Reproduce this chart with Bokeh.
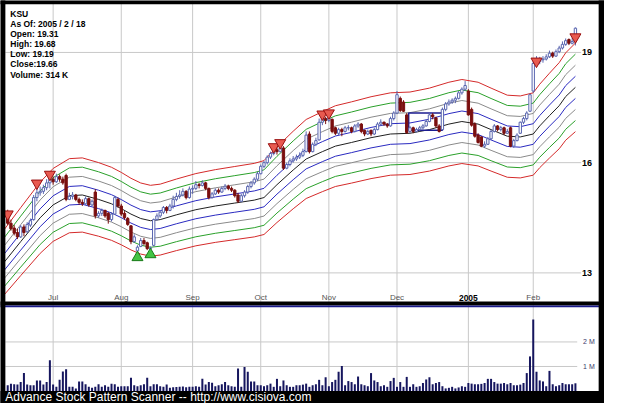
from bokeh.plotting import figure
from bokeh.models import Range1d
from bokeh.core.properties import value
from bokeh.embed import file_html
from bokeh.resources import INLINE

# ---------------- data ----------------
info_lines = ["KSU", "As Of: 2005 / 2 / 18", "Open: 19.31", "High: 19.68",
              "Low: 19.19", "Close:19.66", "Volume: 314 K"]

# trading-day index of the first session of each month (index 0 = 2004-06-10)
month_idx = [14, 35, 57, 78, 99, 120, 142, 162]
month_labels = ["Jul", "Aug", "Sep", "Oct", "Nov", "Dec", "2005", "Feb"]

price_ticks = [13, 16, 19]
price_tick_labels = ["13", "16", "19"]
vol_ticks = [1000, 2000]
vol_tick_labels = ["1 M", "2 M"]

opens = [
    14.55, 14.35, 14.22, 14.10, 13.98, 14.25, 14.12, 14.30, 14.45, 15.05,
    15.18, 15.22, 15.32, 15.45, 15.55, 15.48, 15.62, 15.55, 15.65, 15.00,
    15.08, 15.12, 15.00, 14.92, 14.88, 15.02, 14.85, 15.20, 14.55, 14.62,
    14.70, 14.62, 14.45, 14.60, 15.00, 14.82, 14.62, 14.48, 14.28, 13.85,
    13.60, 13.72, 13.88, 13.82, 13.66, 13.75, 14.45, 14.55, 14.65, 14.78,
    14.70, 14.82, 15.00, 15.08, 15.12, 15.22, 15.05, 15.28, 15.30, 15.40,
    15.38, 15.45, 15.30, 15.05, 15.15, 15.25, 15.20, 15.30, 15.36, 15.30,
    15.25, 15.12, 14.95, 15.10, 15.20, 15.35, 15.45, 15.55, 15.70, 15.90,
    16.00, 16.15, 16.25, 16.35, 16.30, 16.40, 15.85, 15.95, 16.05, 16.10,
    16.15, 16.20, 16.30, 16.78, 16.30, 16.50, 16.62, 17.10, 17.20, 17.15,
    17.18, 16.95, 16.80, 16.90, 16.85, 16.95, 16.95, 16.85, 17.00, 17.05,
    16.88, 16.78, 16.88, 16.78, 16.90, 17.05, 17.10, 17.05, 17.00, 17.20,
    17.35, 17.75, 17.65, 17.30, 16.85, 16.95, 16.85, 16.90, 16.95, 17.00,
    17.12, 17.30, 17.22, 17.00, 16.90, 17.45, 17.60, 17.65, 17.70, 17.75,
    17.90, 18.00, 17.95, 17.45, 17.05, 16.75, 16.70, 16.45, 16.50, 16.65,
    16.85, 17.00, 16.90, 16.95, 16.80, 16.95, 16.45, 16.60, 16.80, 17.10,
    17.20, 17.40, 17.95, 18.70, 18.75, 18.80, 18.82, 18.88, 18.98, 18.90,
    19.02, 19.12, 19.22, 19.35, 19.25, 19.31]
highs = [
    14.72, 14.45, 14.30, 14.20, 14.30, 14.32, 14.38, 14.48, 15.12, 15.30,
    15.35, 15.40, 15.55, 15.68, 15.62, 15.70, 15.68, 15.62, 15.70, 15.18,
    15.20, 15.15, 15.05, 15.00, 15.08, 15.05, 15.00, 15.28, 14.68, 14.75,
    14.72, 14.66, 14.65, 15.10, 15.05, 14.88, 14.68, 14.52, 14.30, 14.05,
    13.75, 13.95, 13.95, 13.85, 13.72, 14.48, 14.62, 14.70, 14.82, 14.82,
    14.88, 15.10, 15.18, 15.25, 15.30, 15.25, 15.35, 15.38, 15.50, 15.45,
    15.52, 15.48, 15.32, 15.20, 15.30, 15.30, 15.35, 15.42, 15.40, 15.35,
    15.28, 15.18, 15.15, 15.25, 15.40, 15.50, 15.60, 15.75, 15.95, 16.05,
    16.20, 16.30, 16.40, 16.45, 16.48, 16.45, 16.00, 16.12, 16.18, 16.22,
    16.28, 16.38, 16.85, 16.85, 16.55, 16.68, 17.20, 17.28, 17.25, 17.30,
    17.20, 16.98, 16.95, 16.95, 17.00, 17.02, 16.98, 17.05, 17.10, 17.08,
    16.90, 16.90, 16.90, 16.95, 17.10, 17.18, 17.12, 17.08, 17.25, 17.40,
    17.95, 17.80, 17.70, 17.35, 17.00, 16.98, 16.95, 17.00, 17.05, 17.18,
    17.35, 17.35, 17.25, 17.05, 17.50, 17.65, 17.72, 17.75, 17.80, 17.95,
    18.05, 18.22, 18.00, 17.50, 17.10, 16.80, 16.72, 16.58, 16.70, 16.90,
    17.05, 17.02, 17.00, 16.98, 16.92, 16.98, 16.65, 16.80, 17.12, 17.25,
    17.40, 17.88, 18.80, 18.90, 18.88, 18.90, 18.95, 19.05, 19.02, 19.08,
    19.18, 19.30, 19.38, 19.38, 19.40, 19.68]
lows = [
    14.30, 14.15, 14.02, 13.92, 13.95, 14.00, 14.08, 14.25, 14.42, 14.95,
    15.10, 15.15, 15.25, 15.30, 15.40, 15.45, 15.48, 15.40, 14.95, 14.98,
    15.00, 14.95, 14.85, 14.82, 14.85, 14.80, 14.82, 14.48, 14.50, 14.55,
    14.50, 14.34, 14.40, 14.58, 14.78, 14.55, 14.45, 14.28, 13.78, 13.82,
    13.52, 13.70, 13.75, 13.62, 13.58, 13.72, 14.42, 14.50, 14.60, 14.62,
    14.68, 14.75, 14.95, 15.02, 15.08, 15.00, 15.02, 15.15, 15.25, 15.30,
    15.35, 15.25, 15.00, 15.02, 15.12, 15.15, 15.18, 15.25, 15.25, 15.20,
    15.05, 14.90, 14.92, 15.05, 15.15, 15.30, 15.40, 15.50, 15.68, 15.85,
    15.95, 16.10, 16.20, 16.22, 16.28, 15.80, 15.82, 15.90, 16.00, 16.05,
    16.10, 16.15, 16.28, 16.25, 16.28, 16.45, 16.60, 17.02, 17.05, 17.10,
    16.80, 16.75, 16.75, 16.72, 16.82, 16.88, 16.80, 16.82, 16.95, 16.80,
    16.72, 16.75, 16.72, 16.75, 16.88, 17.00, 17.00, 16.95, 16.98, 17.15,
    17.32, 17.38, 17.38, 16.78, 16.80, 16.80, 16.82, 16.85, 16.90, 16.98,
    17.10, 17.18, 16.95, 16.82, 16.88, 17.40, 17.55, 17.60, 17.62, 17.72,
    17.85, 17.95, 17.28, 16.98, 16.68, 16.52, 16.42, 16.40, 16.48, 16.62,
    16.82, 16.85, 16.85, 16.75, 16.78, 16.42, 16.40, 16.58, 16.78, 17.05,
    17.15, 17.38, 17.90, 18.62, 18.68, 18.72, 18.78, 18.85, 18.85, 18.88,
    18.98, 19.08, 19.18, 19.20, 19.22, 19.19]
closes = [
    14.35, 14.20, 14.08, 13.98, 14.25, 14.10, 14.32, 14.42, 15.05, 15.18,
    15.22, 15.32, 15.45, 15.55, 15.48, 15.62, 15.55, 15.45, 15.00, 15.08,
    15.12, 15.00, 14.92, 14.88, 15.02, 14.85, 14.95, 14.55, 14.62, 14.70,
    14.55, 14.45, 14.60, 15.05, 14.82, 14.60, 14.50, 14.32, 13.85, 13.98,
    13.70, 13.88, 13.80, 13.66, 13.68, 14.45, 14.55, 14.65, 14.78, 14.70,
    14.82, 15.00, 15.08, 15.12, 15.22, 15.05, 15.28, 15.30, 15.40, 15.38,
    15.45, 15.30, 15.05, 15.15, 15.25, 15.20, 15.30, 15.36, 15.30, 15.25,
    15.10, 14.95, 15.10, 15.20, 15.35, 15.45, 15.55, 15.70, 15.90, 16.00,
    16.15, 16.25, 16.35, 16.30, 16.40, 15.85, 15.95, 16.05, 16.10, 16.15,
    16.20, 16.30, 16.75, 16.30, 16.50, 16.60, 17.10, 17.20, 17.15, 17.22,
    16.85, 16.80, 16.90, 16.85, 16.95, 16.95, 16.85, 17.00, 17.05, 16.85,
    16.78, 16.85, 16.78, 16.90, 17.05, 17.10, 17.05, 17.00, 17.20, 17.35,
    17.85, 17.42, 17.40, 16.82, 16.95, 16.85, 16.90, 16.95, 17.00, 17.12,
    17.30, 17.25, 17.00, 16.85, 17.45, 17.60, 17.65, 17.70, 17.75, 17.90,
    18.00, 18.10, 17.30, 17.02, 16.72, 16.55, 16.45, 16.50, 16.65, 16.85,
    17.00, 16.90, 16.95, 16.80, 16.85, 16.45, 16.60, 16.75, 17.10, 17.20,
    17.35, 17.85, 18.70, 18.75, 18.80, 18.82, 18.88, 18.98, 18.90, 19.02,
    19.12, 19.22, 19.32, 19.25, 19.30, 19.66]
volume_k = [
    235, 300, 275, 260, 365, 730, 260, 235, 235, 430,
    430, 260, 365, 1255, 260, 170, 455, 800, 890, 170,
    170, 105, 390, 390, 275, 170, 130, 170, 275, 170,
    235, 170, 300, 275, 170, 195, 195, 195, 535, 235,
    195, 235, 275, 535, 195, 275, 275, 195, 170, 260,
    130, 150, 160, 170, 180, 150, 170, 170, 195, 170,
    495, 260, 365, 340, 195, 235, 275, 365, 235, 195,
    170, 915, 170, 980, 785, 390, 390, 235, 235, 195,
    235, 300, 170, 495, 195, 430, 235, 170, 170, 235,
    235, 260, 300, 170, 235, 275, 455, 235, 560, 195,
    365, 455, 785, 1020, 235, 405, 365, 275, 590, 275,
    235, 195, 730, 430, 365, 195, 235, 170, 405, 535,
    170, 365, 170, 575, 170, 275, 170, 195, 325, 470,
    560, 275, 325, 365, 195, 105, 130, 170, 105, 145,
    195, 170, 325, 300, 275, 275, 290, 325, 495, 495,
    365, 300, 300, 325, 275, 325, 235, 235, 260, 325,
    730, 1410, 2915, 785, 430, 390, 195, 820, 275, 195,
    235, 325, 275, 275, 275, 314]

# envelope centre line (bar index, price)
band_idx = [-1, 4, 10, 14, 19, 23, 28, 32, 35, 38,
            41, 44, 47, 52, 58, 64, 70, 76, 79, 83,
            88, 92, 97, 101, 106, 112, 118, 124, 130, 136,
            140, 145, 149, 154, 158, 162, 164, 167, 170, 172, 175]
band_mid = [13.30, 13.85, 14.50, 14.85, 15.10, 15.12, 15.00, 14.88, 14.75, 14.60,
            14.48, 14.42, 14.45, 14.58, 14.72, 14.82, 14.90, 14.98, 15.05, 15.40,
            15.80, 16.10, 16.30, 16.45, 16.55, 16.68, 16.78, 16.80, 16.90, 17.05,
            17.12, 17.05, 16.90, 16.72, 16.70, 16.78, 17.00, 17.28, 17.55, 17.80, 18.05]
band_step = 0.0167

sell_idx = [0, 9, 13, 82, 84, 97, 99, 163, 175]
sell_price = [14.60, 15.44, 15.68, 16.43, 16.54, 17.32, 17.35, 18.76, 19.42]
buy_idx = [40, 44]
buy_price = [13.42, 13.50]

box_left = [123.6]
box_right = [134]
box_bottom = [16.88]
box_top = [17.35]

footer = "Advance Stock Pattern Scanner -- http://www.cisiova.com"

# ---------------- layout helpers (reference pixel -> data) ----------------
W, H = 604, 403
REF_W, REF_H = 620, 419


def xi(rx):          # reference x pixel -> bar index
    return (rx - 7.4) / 3.33


def py(ry):          # reference y pixel -> price
    return 19 - (ry - 54) / 38.2


def vy(ry):          # reference y pixel -> volume (thousands)
    return (406 - ry) / 25.5 * 1000


p = figure(width=W, height=H, output_backend="svg", toolbar_location=None,
           title=None, x_range=Range1d(xi(0), xi(REF_W)),
           y_range=Range1d(py(REF_H), py(0)),
           x_axis_location=None, y_axis_location=None,
           min_border_left=0, min_border_right=0, min_border_top=0, min_border_bottom=0,
           outline_line_color=None, background_fill_color="white",
           border_fill_color="black")
p.extra_y_ranges = {"vol": Range1d(vy(REF_H), vy(0))}
p.grid.visible = False

n = len(closes)
idx = list(range(n))
GRID = "#c8c8c8"
FULL_L, FULL_R = xi(-2), xi(REF_W + 2)

# grid lines
p.segment(x0=month_idx, x1=month_idx, y0=[py(406)] * len(month_idx),
          y1=[py(0)] * len(month_idx), line_color=GRID, line_width=1)
p.segment(x0=[xi(5)] * 3, x1=[xi(596)] * 3, y0=price_ticks, y1=price_ticks,
          line_color=GRID, line_width=1)

# envelope bands
band_colors = ["#d42a2a", "#2aa02a", "#8a8a8a", "#2a2ac0", "#202020",
               "#2a2ac0", "#8a8a8a", "#2aa02a", "#d42a2a"]
for k, col in zip([4, 3, 2, 1, 0, -1, -2, -3, -4], band_colors):
    p.line(band_idx, [m * (1 + k * band_step) for m in band_mid],
           line_color=col, line_width=1)

# pattern box
p.quad(left=box_left, right=box_right, bottom=box_bottom, top=box_top,
       fill_color=None, line_color="#1c1c90", line_width=1.5)

# candles
up = [c >= o for o, c in zip(opens, closes)]
UPC = "#5a66b0"
DNC = "#7a0f0f"
p.segment(x0=idx, x1=idx, y0=lows, y1=highs,
          line_color=[UPC if u else DNC for u in up], line_width=1)
p.vbar(x=idx, width=0.72,
       bottom=[min(o, c) for o, c in zip(opens, closes)],
       top=[max(o, c) for o, c in zip(opens, closes)],
       fill_color=["white" if u else DNC for u in up],
       line_color=[UPC if u else DNC for u in up], line_width=1)

# signals
p.scatter(sell_idx, sell_price, marker="inverted_triangle", size=11,
          fill_color="#e85a50", line_color="#9a1010", line_width=1)
p.scatter(buy_idx, buy_price, marker="triangle", size=11,
          fill_color="#44c444", line_color="#1a7a1a", line_width=1)

# info block
p.text(x=[xi(10)] * len(info_lines), y=[py(14 + 10.5 * k) for k in range(len(info_lines))],
       text=info_lines, text_font=value("Liberation Sans"), text_font_size="8.5px",
       text_font_style="bold", text_baseline="middle", text_color="black")

# month labels
reg = [i for i, l in enumerate(month_labels) if l != "2005"]
yr = [i for i, l in enumerate(month_labels) if l == "2005"]
p.text(x=[month_idx[i] for i in reg], y=[py(309)] * len(reg),
       text=[month_labels[i] for i in reg], text_font=value("Liberation Sans"),
       text_font_size="8px", text_align="center", text_baseline="middle",
       text_color="#555555")
p.text(x=[month_idx[i] for i in yr], y=[py(309)] * len(yr),
       text=[month_labels[i] for i in yr], text_font=value("Liberation Sans"),
       text_font_size="8.5px", text_font_style="bold", text_align="center",
       text_baseline="middle", text_color="black")

# price labels
p.text(x=[xi(597)] * 3, y=price_ticks, text=price_tick_labels,
       text_font=value("Liberation Sans"), text_font_size="9px",
       text_font_style="bold", text_baseline="middle", text_color="black")

# panel separator
p.quad(left=[FULL_L], right=[FULL_R], bottom=[py(317)], top=[py(313)],
       fill_color="black", line_color=None)
p.quad(left=[FULL_L], right=[FULL_R], bottom=[py(319)], top=[py(317)],
       fill_color="#1a1a8a", line_color=None)

# volume panel
p.segment(x0=[xi(5)] * 2, x1=[xi(592)] * 2, y0=vol_ticks, y1=vol_ticks,
          line_color=GRID, line_width=1, y_range_name="vol")
p.vbar(x=idx, width=0.62, bottom=0, top=volume_k, fill_color="#16165e",
       line_color=None, y_range_name="vol")
p.text(x=[xi(598)] * 2, y=vol_ticks, text=vol_tick_labels,
       text_font=value("Liberation Sans"), text_font_size="7px",
       text_baseline="middle", text_color="#3a3a6a", y_range_name="vol")

# black frame (left, top, right, footer)
p.quad(left=[FULL_L], right=[xi(5)], bottom=[py(REF_H + 2)], top=[py(-2)],
       fill_color="black", line_color=None)
p.quad(left=[FULL_L], right=[FULL_R], bottom=[py(4)], top=[py(-2)],
       fill_color="black", line_color=None)
p.quad(left=[xi(614)], right=[FULL_R], bottom=[py(REF_H + 2)], top=[py(-2)],
       fill_color="black", line_color=None)
p.quad(left=[FULL_L], right=[FULL_R], bottom=[py(REF_H + 2)], top=[py(406)],
       fill_color="black", line_color=None)
p.text(x=[xi(5)], y=[py(412)], text=[footer], text_font=value("Liberation Sans"),
       text_font_size="12px", text_baseline="middle", text_color="white")

open("out.html", "w").write(file_html(p, INLINE))
